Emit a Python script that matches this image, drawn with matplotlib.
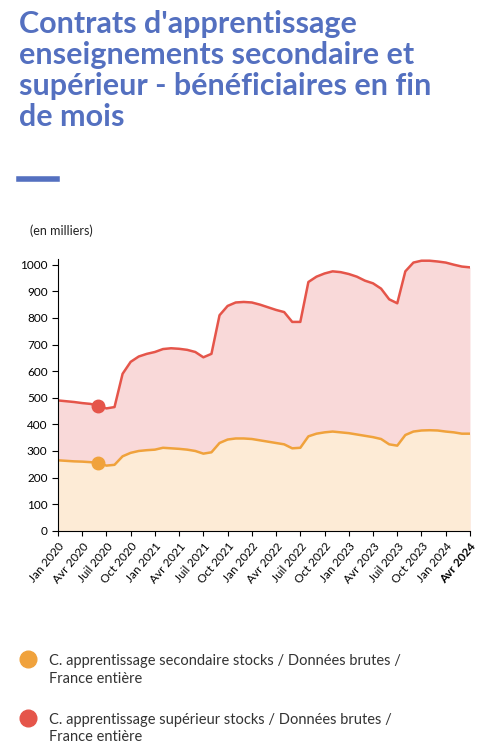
import matplotlib
matplotlib.use("Agg")
import matplotlib.pyplot as plt
import pandas as pd
from matplotlib.lines import Line2D

plt.rcParams['font.family'] = ['Lato', 'DejaVu Sans']

months = pd.date_range("2020-01-01", "2024-04-01", freq="MS")
secondaire = [265,263,261,260,258,255,245,248,280,293,300,303,
              305,312,310,308,305,300,290,295,330,343,347,347,
              345,340,335,330,325,310,312,355,365,370,373,370,
              367,362,357,352,345,325,320,360,373,377,378,377,
              373,370,365,365]
total = [490,487,484,480,477,470,460,465,590,635,655,665,
         672,683,686,684,680,672,652,665,810,845,858,860,
         858,850,840,830,822,785,785,935,955,967,975,972,
         965,955,940,930,910,870,855,975,1008,1015,1015,1012,
         1008,1000,993,990]
fr_months = ["Jan","Avr","Juil","Oct"]
tick_idx = list(range(0, len(months), 3))
tick_labels = [f"{fr_months[(months[i].month-1)//3]} {months[i].year}" for i in tick_idx]

x = list(range(len(months)))
fig = plt.figure(figsize=(4.83, 7.54), dpi=100)
ax = fig.add_axes([0.120, 0.296, 0.853, 0.36])
ax.fill_between(x, total, color="#f9d9d9", lw=0)
ax.fill_between(x, secondaire, color="#fdebd6", lw=0)
ax.plot(x, total, color="#e5554a", lw=1.8)
ax.plot(x, secondaire, color="#f0a23c", lw=1.8)
ax.plot(x[5], total[5], 'o', color="#e5554a", ms=9)
ax.plot(x[5], secondaire[5], 'o', color="#f0a23c", ms=9)
ax.set_xlim(0, len(x)-1)
ax.set_ylim(0, 1020)
ax.set_yticks(range(0, 1001, 100))
ax.tick_params(axis='y', labelsize=8.5, length=4)
ax.set_xticks(tick_idx)
ax.set_xticklabels(tick_labels, rotation=50, ha='right', rotation_mode='anchor', fontsize=8.5)
ax.get_xticklabels()[-1].set_fontweight('bold')
for s in ['top', 'right']:
    ax.spines[s].set_visible(False)

fig.text(0.04, 0.987, "Contrats d'apprentissage\nenseignements secondaire et\nsupérieur - bénéficiaires en fin\nde mois",
         color="#5470c0", fontsize=22, fontweight='bold', va='top', linespacing=1.13)
fig.add_artist(Line2D([0.04, 0.118], [0.763, 0.763], color="#5470c0", lw=4))
fig.text(0.062, 0.688, "(en milliers)", fontsize=9, color="#222222")

fig.add_artist(Line2D([0.058], [0.126], marker='o', color="#f0a23c", ms=12, ls=''))
fig.text(0.101, 0.132, "C. apprentissage secondaire stocks / Données brutes /\nFrance entière",
         fontsize=10.5, va='top', color="#333333", linespacing=1.35)
fig.add_artist(Line2D([0.058], [0.048], marker='o', color="#e5554a", ms=12, ls=''))
fig.text(0.101, 0.055, "C. apprentissage supérieur stocks / Données brutes /\nFrance entière",
         fontsize=10.5, va='top', color="#333333", linespacing=1.35)

fig.savefig("out.png", dpi=100)
